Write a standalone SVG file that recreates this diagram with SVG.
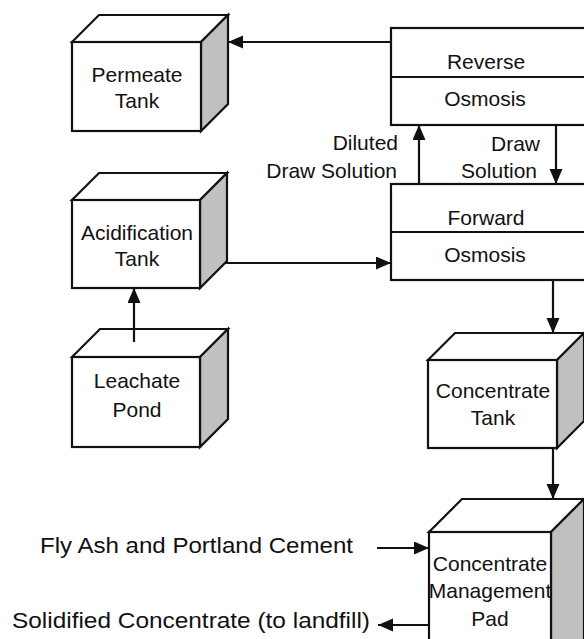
<svg xmlns="http://www.w3.org/2000/svg" width="584" height="639" viewBox="0 0 584 639">
<style>
.face{fill:#fff;stroke:#111;stroke-width:2.2;stroke-linejoin:miter}
.side{fill:#c0c0c0;stroke:#111;stroke-width:2.2}
.t{font-family:"Liberation Sans",Arial,sans-serif;font-size:21px;fill:#111;text-anchor:middle}
.l{font-family:"Liberation Sans",Arial,sans-serif;font-size:21px;fill:#111;text-anchor:end}
.b{font-family:"Liberation Sans",Arial,sans-serif;font-size:22px;fill:#111}
.c{stroke:#111;stroke-width:2.2;fill:none}
</style>
<defs>
<marker id="ah" markerUnits="userSpaceOnUse" markerWidth="16" markerHeight="14" refX="15" refY="6.5" orient="auto">
<path d="M0,0 L15,6.5 L0,13 z" fill="#111"/>
</marker>
</defs>
<rect width="584" height="639" fill="#fff"/>

<g id="permeate-tank">
<polygon class="face" points="72,42 99,15 228,15 201,42"/>
<polygon class="side" points="201,42 228,15 228,104 201,131"/>
<rect class="face" x="72" y="42" width="129" height="89"/>
<text class="t" x="137" y="82">Permeate</text>
<text class="t" x="137" y="108">Tank</text>
</g>

<g id="reverse-osmosis">
<rect class="face" x="391" y="28" width="220" height="97"/>
<line class="c" x1="391" y1="77" x2="611" y2="77"/>
<text class="t" x="486" y="69">Reverse</text>
<text class="t" x="485" y="106">Osmosis</text>
</g>

<g id="forward-osmosis">
<rect class="face" x="391" y="184" width="220" height="96"/>
<line class="c" x1="391" y1="232" x2="611" y2="232"/>
<text class="t" x="486" y="225">Forward</text>
<text class="t" x="485" y="262">Osmosis</text>
</g>

<g id="acidification-tank">
<polygon class="face" points="72,200 99,173 227,173 200,200"/>
<polygon class="side" points="200,200 227,173 227,261 200,288"/>
<rect class="face" x="72" y="200" width="128" height="88"/>
<text class="t" x="137" y="240">Acidification</text>
<text class="t" x="137" y="266">Tank</text>
</g>

<g id="leachate-pond">
<polygon class="face" points="72,357 100,329 228,329 200,357"/>
<polygon class="side" points="200,357 228,329 228,419 200,447"/>
<rect class="face" x="72" y="357" width="128" height="90"/>
<text class="t" x="137" y="388">Leachate</text>
<text class="t" x="137" y="417">Pond</text>
</g>

<g id="concentrate-tank">
<polygon class="face" points="428,360 455,333 584,333 557,360"/>
<polygon class="side" points="557,360 584,333 584,421 557,448"/>
<rect class="face" x="428" y="360" width="129" height="88"/>
<text class="t" x="493" y="398">Concentrate</text>
<text class="t" x="493" y="425">Tank</text>
</g>

<g id="concentrate-management-pad">
<polygon class="face" points="429,532 462,499 584,499 551,532"/>
<polygon class="side" points="551,532 584,499 584,650 551,650"/>
<rect class="face" x="429" y="532" width="122" height="120"/>
<text class="t" x="490" y="571">Concentrate</text>
<text class="t" x="490" y="598">Management</text>
<text class="t" x="490" y="626">Pad</text>
</g>

<g id="labels">
<text class="l" x="398" y="150">Diluted</text>
<text class="l" x="397" y="178">Draw Solution</text>
<text class="l" x="540" y="151">Draw</text>
<text class="l" x="537" y="178">Solution</text>
<text class="b" x="40" y="553" textLength="313" lengthAdjust="spacingAndGlyphs">Fly Ash and Portland Cement</text>
<text class="b" x="12" y="628" textLength="358" lengthAdjust="spacingAndGlyphs">Solidified Concentrate (to landfill)</text>
</g>

<g id="connectors">
<line class="c" x1="391" y1="42" x2="228" y2="42" marker-end="url(#ah)"/>
<line class="c" x1="419" y1="184" x2="419" y2="125" marker-end="url(#ah)"/>
<line class="c" x1="556" y1="125" x2="556" y2="184" marker-end="url(#ah)"/>
<line class="c" x1="226" y1="263" x2="391" y2="263" marker-end="url(#ah)"/>
<line class="c" x1="134" y1="342" x2="134" y2="288" marker-end="url(#ah)"/>
<line class="c" x1="553" y1="280" x2="553" y2="333" marker-end="url(#ah)"/>
<line class="c" x1="553" y1="448" x2="553" y2="499" marker-end="url(#ah)"/>
<line class="c" x1="377" y1="548" x2="429" y2="548" marker-end="url(#ah)"/>
<line class="c" x1="429" y1="625" x2="378" y2="625" marker-end="url(#ah)"/>
</g>
</svg>
